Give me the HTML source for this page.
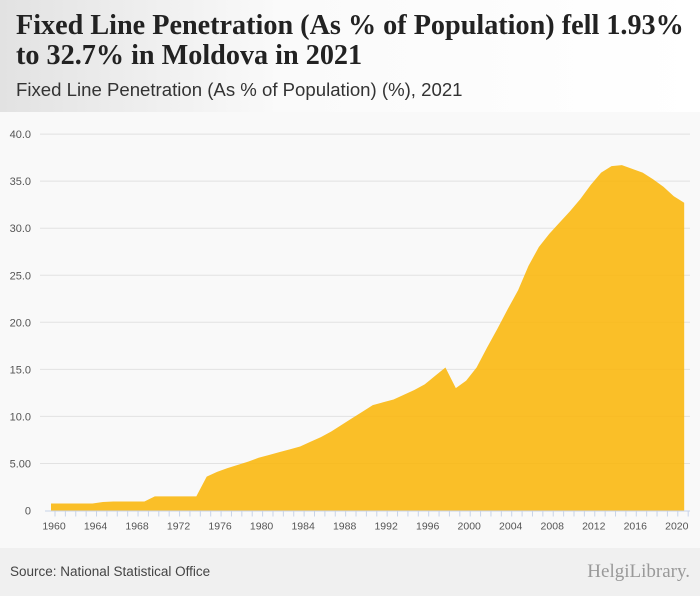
<!DOCTYPE html>
<html><head><meta charset="utf-8"><style>
body{margin:0;width:700px;height:596px;overflow:hidden;background:#fff;font-family:"Liberation Sans",sans-serif}
#hdr{position:absolute;left:0;top:0;width:700px;height:112px;background:linear-gradient(90deg,#e2e2e2 0%,#fafafa 40%,#fff 100%)}
h1{position:absolute;left:16px;top:11px;margin:0;font-family:"Liberation Serif",serif;font-size:28.2px;line-height:30px;font-weight:bold;color:#222}
#sub{position:absolute;left:16px;top:79px;font-size:18.6px;color:#333}
#foot{position:absolute;left:0;top:548px;width:700px;height:48px;background:#f0f0f0}
#src{position:absolute;left:10px;top:564px;font-size:13.5px;color:#444}
#logo{position:absolute;right:10px;top:561px;font-size:19px;color:#999;font-family:"Liberation Serif",serif}
</style></head><body>
<div id="hdr"></div>
<h1>Fixed Line Penetration (As % of Population) fell 1.93%<br>to 32.7% in Moldova in 2021</h1>
<div id="sub">Fixed Line Penetration (As % of Population) (%), 2021</div>
<svg id="chart" style="position:absolute;left:0;top:112px" width="700" height="436"></svg>
<div id="foot"></div>
<div id="src">Source: National Statistical Office</div>
<div id="logo">HelgiLibrary.</div>
<script>
const years=[];for(let y=1960;y<=2021;y++)years.push(y);
const values=[0.75,0.75,0.75,0.75,0.75,0.9,0.95,0.95,0.95,0.95,1.5,1.5,1.5,1.5,1.5,3.6,4.1,4.5,4.85,5.2,5.6,5.9,6.2,6.5,6.8,7.3,7.8,8.4,9.1,9.8,10.5,11.2,11.5,11.8,12.3,12.8,13.4,14.3,15.2,13.0,13.8,15.2,17.3,19.3,21.4,23.4,26.0,28.0,29.4,30.6,31.8,33.1,34.6,35.9,36.6,36.7,36.3,35.9,35.2,34.4,33.4,32.7];
const yTicks=[0,5,10,15,20,25,30,35,40];
const yTickLabels=["0","5.00","10.0","15.0","20.0","25.0","30.0","35.0","40.0"];
const xLabelYears=[1960,1964,1968,1972,1976,1980,1984,1988,1992,1996,2000,2004,2008,2012,2016,2020];
const NS="http://www.w3.org/2000/svg";
const svg=document.getElementById('chart');
const X=y=>51+(y-1960)*10.38;
const Y=v=>398.5-v*9.41;
function mk(t,a){const e=document.createElementNS(NS,t);for(const k in a)e.setAttribute(k,a[k]);svg.appendChild(e);return e;}
const bg=mk('rect',{x:0,y:0,width:700,height:436,fill:'#f9f9f9'});


yTicks.forEach((t,i)=>{
 if(t>0){const g=mk('line',{x1:40,x2:690,y1:Y(t),y2:Y(t),stroke:'#e2e2e2'});
 
 }
 const l=mk('text',{x:31,y:Y(t)+4,'text-anchor':'end','font-size':11,fill:'#555','font-family':'Liberation Sans, sans-serif'});
 l.textContent=yTickLabels[i];
 
 
});
let d='M'+X(years[0])+','+Y(0);
years.forEach((y,i)=>{d+=' L'+X(y)+','+Y(values[i]);});
d+=' L'+X(years[years.length-1])+','+Y(0)+' Z';
const area=mk('path',{d:d,fill:'#f9b811',opacity:0.9});


const ax=mk('line',{x1:45,x2:690,y1:Y(0)+0.5,y2:Y(0)+0.5,stroke:'#c8d3e8'});


years.forEach(y=>{const t=mk('line',{x1:X(y)+4,x2:X(y)+4,y1:Y(0),y2:Y(0)+6,stroke:'#c8d3e8'});
 
 });
xLabelYears.forEach(y=>{const l=mk('text',{x:X(y)+3,y:Y(0)+19,'text-anchor':'middle','font-size':10.5,fill:'#555','font-family':'Liberation Sans, sans-serif'});
 l.textContent=y;
 
 });
</script>
</body></html>
